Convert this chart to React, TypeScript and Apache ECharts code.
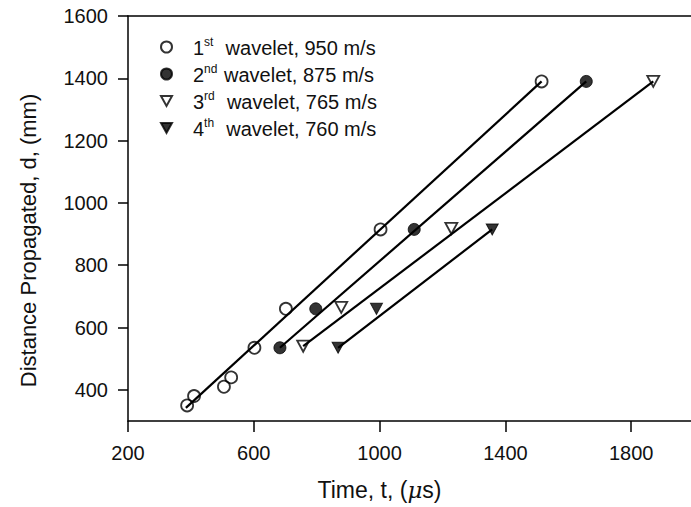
import React, { useEffect, useRef } from "react";
import * as echarts from "echarts";

// Data
const s1Time = [388, 410, 505, 528, 602, 702, 1003, 1515];
const s1Dist = [350, 380, 410, 440, 535, 660, 915, 1390];
const s2Time = [683, 797, 1110, 1657];
const s2Dist = [535, 660, 915, 1390];
const s3Time = [757, 878, 1228, 1870];
const s3Dist = [540, 665, 918, 1390];
const s4Time = [868, 990, 1358];
const s4Dist = [535, 660, 915];

// fitted lines (end points)
const fit1 = [[384, 342], [1515, 1390]];
const fit2 = [[683, 535], [1657, 1390]];
const fit3 = [[757, 540], [1870, 1390]];
const fit4 = [[868, 535], [1358, 915]];

const seriesNames = [
  "1st wavelet, 950 m/s",
  "2nd wavelet, 875 m/s",
  "3rd wavelet, 765 m/s",
  "4th wavelet, 760 m/s",
];
const legendRich = [
  ["1", "st", "  wavelet, 950 m/s"],
  ["2", "nd", " wavelet, 875 m/s"],
  ["3", "rd", "  wavelet, 765 m/s"],
  ["4", "th", "  wavelet, 760 m/s"],
];

const xTicks = [200, 600, 1000, 1400, 1800];
const yTicks = [400, 600, 800, 1000, 1200, 1400, 1600];

const FONT = "Liberation Sans, Arial, Helvetica, sans-serif";
const TRI = "path://M0,0L10,0L5,9Z";

function zip(a: number[], b: number[]) {
  return a.map((v, i) => [v, b[i]]);
}

export default function App() {
  const ref = useRef<HTMLDivElement>(null);
  useEffect(() => {
    document.body.style.margin = "0";
    const chart = echarts.init(ref.current!, null, { renderer: "svg" });
    const open = { color: "rgba(255,255,255,0)", borderColor: "#000", borderWidth: 1.8 };
    const filled = { color: "#000", borderColor: "#000", borderWidth: 1 };
    const lineSeries = (d: number[][]) => ({
      type: "line",
      data: d,
      symbol: "none",
      silent: true,
      lineStyle: { color: "#000", width: 2.2 },
      z: 1,
    });
    const scat = (name: string, d: number[][], symbol: string, size: any, style: any) => ({
      type: "scatter",
      name,
      data: d,
      symbol,
      symbolSize: size,
      itemStyle: style,
      z: 3,
    });
    chart.setOption({
      animation: false,
      backgroundColor: "#fff",
      textStyle: { fontFamily: FONT, color: "#111" },
      grid: { left: 128, top: 16, right: 0, bottom: 86, containLabel: false },
      legend: {
        orient: "vertical",
        left: 155,
        top: 31,
        itemWidth: 11,
        itemHeight: 11,
        itemGap: 5,
        data: seriesNames,
        formatter: (name: string) => {
          const r = legendRich[seriesNames.indexOf(name)];
          return `{n|${r[0]}}{s|${r[1]}}{n|${r[2]}}`;
        },
        textStyle: {
          fontFamily: FONT,
          padding: [0, 0, 0, 16],
          rich: {
            n: { fontSize: 20, color: "#111", fontFamily: FONT, lineHeight: 22, verticalAlign: "bottom" },
            s: { fontSize: 12, color: "#111", fontFamily: FONT, lineHeight: 22, verticalAlign: "top", padding: [0, 1, 10, 0] },
          },
        },
      },
      xAxis: [
        {
          type: "value",
          min: 200,
          max: 1990,
          name: "Time, t, ({mu|μ}s)",
          nameLocation: "middle",
          nameGap: 57,
          nameTextStyle: {
            fontSize: 23,
            color: "#111",
            fontFamily: FONT,
            padding: [0, 60, 0, 0],
            rich: { mu: { fontSize: 23, fontStyle: "italic", fontFamily: "DejaVu Serif, serif", color: "#111" } },
          },
          axisLine: { show: true, lineStyle: { color: "#000", width: 1.5 } },
          axisTick: { show: true, length: 11, inside: false, customValues: xTicks, lineStyle: { color: "#000", width: 1.5 } },
          axisLabel: { customValues: xTicks, fontSize: 20, color: "#111", margin: 22, fontFamily: FONT, formatter: (v: number) => String(v) },
          splitLine: { show: false },
        },
        {
          type: "value",
          position: "top",
          min: 200,
          max: 1990,
          axisLine: { show: true, lineStyle: { color: "#000", width: 1.5 } },
          axisTick: { show: false },
          axisLabel: { show: false },
          splitLine: { show: false },
        },
      ],
      yAxis: {
        type: "value",
        min: 300,
        max: 1600,
        name: "Distance Propagated, d, (mm)",
        nameLocation: "middle",
        nameGap: 89,
        nameTextStyle: { fontSize: 22, color: "#111", fontFamily: FONT, padding: [0, 44, 0, 0] },
        axisLine: { show: true, lineStyle: { color: "#000", width: 1.5 } },
        axisTick: { show: true, length: 10, customValues: yTicks, lineStyle: { color: "#000", width: 1.5 } },
        axisLabel: { customValues: yTicks, fontSize: 20, color: "#111", margin: 20, fontFamily: FONT, formatter: (v: number) => String(v) },
        splitLine: { show: false },
      },
      series: [
        lineSeries(fit1),
        lineSeries(fit2),
        lineSeries(fit3),
        lineSeries(fit4),
        scat(seriesNames[0], zip(s1Time, s1Dist), "circle", 12, open),
        scat(seriesNames[1], zip(s2Time, s2Dist), "circle", 12, filled),
        scat(seriesNames[2], zip(s3Time, s3Dist), TRI, [12, 11], open),
        scat(seriesNames[3], zip(s4Time, s4Dist), TRI, [12, 11], filled),
      ],
    });
    return () => chart.dispose();
  }, []);
  return <div ref={ref} style={{ width: 691, height: 507 }} />;
}
